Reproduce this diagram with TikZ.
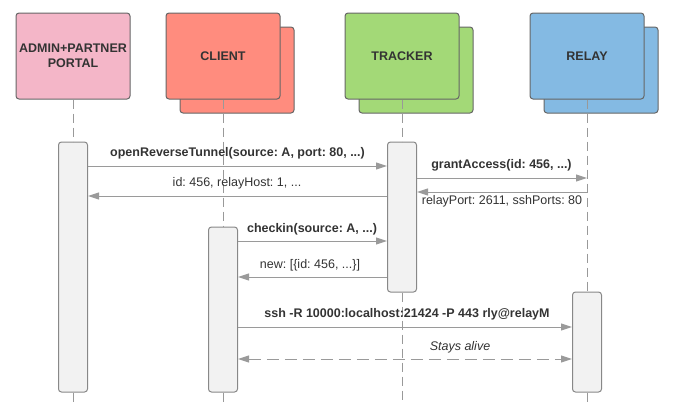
\documentclass[tikz,border=0pt]{standalone}
\usepackage{fontspec}
\setmainfont{Liberation Sans}
\frenchspacing
\usetikzlibrary{arrows.meta,calc}
\definecolor{pinkc}{HTML}{F4B6C8}
\definecolor{salmonc}{HTML}{FF8C7E}
\definecolor{greenc}{HTML}{A3D977}
\definecolor{bluec}{HTML}{84BAE3}
\definecolor{boxline}{HTML}{666666}
\definecolor{textc}{HTML}{333333}
\definecolor{barline}{HTML}{888888}
\definecolor{barfill}{HTML}{F2F2F2}
\definecolor{msgc}{HTML}{9A9A9A}
\definecolor{lifec}{HTML}{999999}
\tikzset{
  actor/.style={draw=boxline, line width=1pt, rounded corners=3pt,
    minimum width=114pt, minimum height=86pt, inner sep=0pt,
    font=\bfseries\fontsize{12.5}{15}\selectfont, text=textc, align=center},
  actorback/.style={draw=boxline, line width=1pt, rounded corners=3pt,
    minimum width=114pt, minimum height=86pt, inner sep=0pt},
  actbar/.style={draw=barline, fill=barfill, line width=1pt, rounded corners=3pt,
    minimum width=29pt, inner sep=0pt},
  life/.style={draw=lifec, line width=0.9pt, dash pattern=on 9pt off 5pt},
  lifeend/.style={draw=lifec, line width=0.9pt},
  msg/.style={draw=msgc, line width=1pt, -{Triangle[length=11pt,width=7pt]}, msgc},
  dmsg/.style={draw=msgc, line width=1pt, {Triangle[length=11pt,width=7pt]}-{Triangle[length=11pt,width=7pt]}, msgc, dash pattern=on 12pt off 6pt},
  lbl/.style={font=\fontsize{12.5}{15}\selectfont, text=textc, inner sep=0pt},
  blbl/.style={font=\bfseries\fontsize{12.5}{15}\selectfont, text=textc, inner sep=0pt},
  ilbl/.style={font=\itshape\fontsize{12.5}{15}\selectfont, text=textc, inner sep=0pt}
}
\begin{document}
\begin{tikzpicture}[x=1pt,y=-1pt]
\useasboundingbox (0,0) rectangle (677,402);
% actors
\node[actor, fill=pinkc] (portal) at (73,56) {ADMIN+PARTNER\\PORTAL};
\node[actorback, fill=salmonc] (clientb) at (237,70) {};
\node[actor, fill=salmonc] (client) at (223,56) {CLIENT};
\node[actorback, fill=greenc] (trackerb) at (416,70) {};
\node[actor, fill=greenc] (tracker) at (402,56) {TRACKER};
\node[actorback, fill=bluec] (relayb) at (601,70) {};
\node[actor, fill=bluec] (relay) at (587,56) {RELAY};
% activation bars
\node[actbar, minimum height=250pt] (pbar) at (73,267) {};
\node[actbar, minimum height=165pt] (cbar) at (223,309.5) {};
\node[actbar, minimum height=150pt] (tbar) at (402,217) {};
\node[actbar, minimum height=100pt] (rbar) at (587,342) {};
% lifelines
\coordinate (bottom) at (0,402);
\draw[life] (portal.south) -- (pbar.north);
\draw[lifeend] (pbar.south) -- (pbar.south |- bottom);
\draw[life] (client.south) -- (cbar.north);
\draw[lifeend] (cbar.south) -- (cbar.south |- bottom);
\draw[life] (tracker.south) -- (tbar.north);
\draw[life] (tbar.south) -- (tbar.south |- bottom);
\draw[life] (relay.south) -- (rbar.north);
\draw[lifeend] (rbar.south) -- (rbar.south |- bottom);
% message rows
\coordinate (y1) at (0,166);
\coordinate (y2) at (0,196);
\coordinate (y3) at (0,178);
\coordinate (y4) at (0,192);
\coordinate (y5) at (0,241);
\coordinate (y6) at (0,277);
\coordinate (y7) at (0,327);
\coordinate (y8) at (0,359);
\coordinate (r3) at (relay.south |- y3);
\coordinate (r4) at (relay.south |- y4);
% messages
\draw[msg] (pbar.east |- y1) -- (tbar.west |- y1);
\node[blbl] (l1) at (237.5,153.5) {openReverseTunnel(source: A, port: 80, ...)};
\draw[msg] (tbar.west |- y2) -- (pbar.east |- y2);
\node[lbl] (l2) at (237,183.5) {id: 456, relayHost: 1, ...};
\draw[msg] (tbar.east |- y3) -- (r3);
\node[blbl] (l3) at (501.5,165.5) {grantAccess(id: 456, ...)};
\draw[msg] (r4) -- (tbar.east |- y4);
\node[lbl] (l4) at (502,201.5) {relayPort: 2611, sshPorts: 80};
\draw[msg] (cbar.east |- y5) -- (tbar.west |- y5);
\node[blbl] (l5) at (312,229) {checkin(source: A, ...)};
\draw[msg] (tbar.west |- y6) -- (cbar.east |- y6);
\node[lbl] (l6) at (310,265) {new: [\{id: 456, ...\}]};
\draw[msg] (cbar.east |- y7) -- (rbar.west |- y7);
\node[blbl] (l7) at (407,314) {ssh -R 10000:localhost:21424 -P 443 rly@relayM};
\draw[dmsg] (cbar.east |- y8) -- (rbar.west |- y8);
\node[ilbl] (l8) at (460,347) {Stays alive};
\end{tikzpicture}
\end{document}
